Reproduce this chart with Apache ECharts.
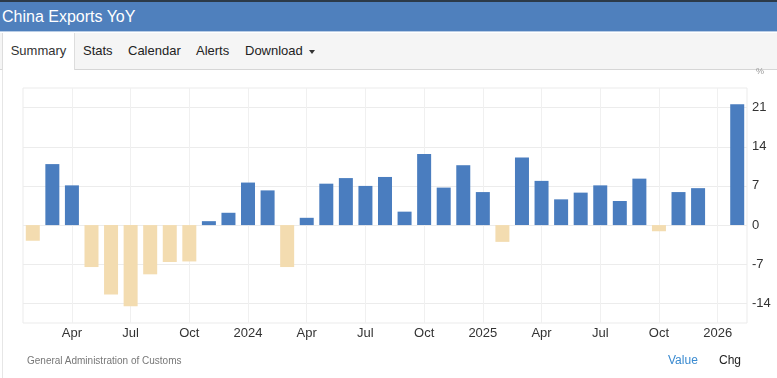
<!DOCTYPE html>
<html>
<head>
<meta charset="utf-8">
<script src="https://cdn.jsdelivr.net/npm/echarts@6/dist/echarts.min.js"></script>
<style>
  html, body { margin: 0; padding: 0; width: 777px; height: 378px; overflow: hidden; background: #fff;
    font-family: "Liberation Sans", Arial, sans-serif; }
  #top { position: absolute; left: 0; top: 0; width: 777px; height: 2px; background: #2c3a48; }
  #head { position: absolute; left: 0; top: 2px; width: 777px; height: 30px; background: #4f80bd;
    border-bottom: 1px solid #b9cde6; color: #fff; font-size: 16px; line-height: 29px; padding-left: 2px; box-sizing: border-box; }
  #tabs { position: absolute; left: 0; top: 33px; width: 777px; height: 36px; background: #f5f5f5;
    border-bottom: 1px solid #d6d6d6; }
  .tab { position: absolute; top: 0; height: 36px; line-height: 36px; font-size: 13px; color: #222; }
  #summary { left: 2px; width: 71px; background: #fff; border-left: 1px solid #ddd; border-right: 1px solid #ddd;
    height: 37px; text-align: center; color: #333; }
  .caret { display: inline-block; width: 0; height: 0; margin-left: 6px; vertical-align: middle;
    border-top: 4px solid #333; border-left: 3px solid transparent; border-right: 3px solid transparent; }
  #side { position: absolute; left: 2px; top: 70px; width: 1px; height: 308px; background: #e6e6e6; }
  #chart { position: absolute; left: 0; top: 0; width: 777px; height: 378px; }
  .foot { position: absolute; font-size: 10px; color: #777; }
</style>
</head>
<body>
<div id="top"></div>
<div id="head">China Exports YoY</div>
<div id="tabs">
  <div class="tab" id="summary">Summary</div>
  <div class="tab" style="left:83px">Stats</div>
  <div class="tab" style="left:128px">Calendar</div>
  <div class="tab" style="left:196px">Alerts</div>
  <div class="tab" style="left:245px">Download<span class="caret"></span></div>
</div>
<div id="side"></div>
<div id="chart"></div>
<div class="foot" style="left:27px;top:355px">General Administration of Customs</div>
<div class="foot" style="left:668px;top:353px;font-size:12px;color:#3a8ad0">Value</div>
<div class="foot" style="left:719px;top:353px;font-size:12px;color:#222">Chg</div>
<script>
// months shown on the x axis
const months = [
  '2023-02', '2023-03', '2023-04', '2023-05', '2023-06', '2023-07', '2023-08', '2023-09', '2023-10', '2023-11', '2023-12',
  '2024-01', '2024-02', '2024-03', '2024-04', '2024-05', '2024-06', '2024-07', '2024-08', '2024-09', '2024-10', '2024-11', '2024-12',
  '2025-01', '2025-02', '2025-03', '2025-04', '2025-05', '2025-06', '2025-07', '2025-08', '2025-09', '2025-10', '2025-11', '2025-12',
  '2026-01', '2026-02'
];
// exports YoY, %
const exportsYoY = [
  -2.8, 10.9, 7.1, -7.5, -12.4, -14.5, -8.8, -6.6, -6.5, 0.7, 2.2,
  7.6, 6.2, -7.5, 1.3, 7.4, 8.4, 7.0, 8.6, 2.4, 12.7, 6.7, 10.7,
  5.9, -3.0, 12.1, 7.9, 4.6, 5.8, 7.1, 4.3, 8.3, -1.1, 5.9, 6.6,
  null, 21.6
];
const yTicks = [-14, -7, 0, 7, 14, 21];
const monthNames = { '04': 'Apr', '07': 'Jul', '10': 'Oct' };

const shown = (i) => ['01', '04', '07', '10'].indexOf(months[i].slice(5)) >= 0;

const chart = echarts.init(document.getElementById('chart'));
chart.setOption({
  animation: false,
  grid: { left: 23, right: 30, top: 88, bottom: 55, show: true, borderColor: '#ebebeb', borderWidth: 1 },
  xAxis: {
    type: 'category',
    data: months,
    axisLine: { show: false },
    axisTick: { show: false },
    axisLabel: {
      interval: (i) => shown(i),
      formatter: (v) => v.slice(5) === '01' ? v.slice(0, 4) : monthNames[v.slice(5)],
      color: '#333', fontSize: 13, margin: 4, fontFamily: 'Liberation Sans'
    },
    splitLine: { show: true, interval: (i) => shown(i), alignWithLabel: true, lineStyle: { color: '#f0f0f0' } }
  },
  yAxis: {
    type: 'value',
    position: 'right',
    min: -17.5,
    max: 24.5,
    axisLine: { show: false },
    axisTick: { show: false, customValues: yTicks },
    axisLabel: { customValues: yTicks, color: '#333', fontSize: 13, margin: 5, fontFamily: 'Liberation Sans' },
    splitLine: { show: true, lineStyle: { color: '#ececec' } },
    name: '%', nameLocation: 'end', nameGap: 12,
    nameTextStyle: { color: '#999', fontSize: 9, align: 'left', padding: [0, 0, 0, 9] }
  },
  series: [{
    type: 'bar',
    data: exportsYoY,
    barWidth: 14,
    itemStyle: { color: (p) => p.value < 0 ? '#f3dcb0' : '#4a7dbf' }
  }]
});
</script>
</body>
</html>
